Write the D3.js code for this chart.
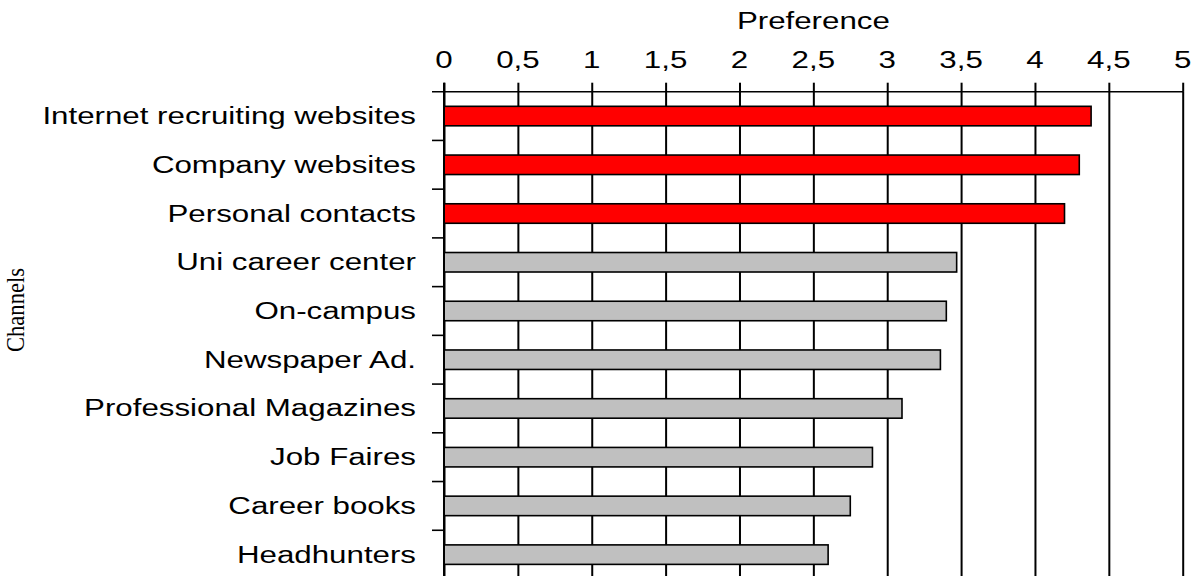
<!DOCTYPE html>
<html>
<head>
<meta charset="utf-8">
<script src="https://cdn.jsdelivr.net/npm/d3@7"></script>
<style>
  html, body { margin: 0; padding: 0; background: #fff; }
  svg { display: block; }
</style>
</head>
<body>
<script>
// ---- data ----
const categories = [
  "Internet recruiting websites",
  "Company websites",
  "Personal contacts",
  "Uni career center",
  "On-campus",
  "Newspaper Ad.",
  "Professional Magazines",
  "Job Faires",
  "Career books",
  "Headhunters"
];
const values = [4.38, 4.30, 4.20, 3.47, 3.40, 3.36, 3.10, 2.90, 2.75, 2.60];
const highlighted = ["Internet recruiting websites", "Company websites", "Personal contacts"];
const tickValues = [0, 0.5, 1, 1.5, 2, 2.5, 3, 3.5, 4, 4.5, 5];
const xTitle = "Preference";
const yTitle = "Channels";

// ---- layout ----
const W = 1191, H = 576;
const plotLeft = 444, plotRight = 1182.7, plotTop = 91.7, plotBottom = 579;
const stretch = 1.36;
const fs = 23;
const font = "'Liberation Sans', Arial, sans-serif";

const svg = d3.select("body").append("svg").attr("width", W).attr("height", H);

const x = d3.scaleLinear().domain([0, 5]).range([plotLeft, plotRight]);
const y = d3.scaleBand().domain(categories).range([plotTop, plotBottom])
  .paddingInner(0.6).paddingOuter(0.3);

const fmt = d => String(d).replace(".", ",");

// gridlines (vertical, full height)
const grid = svg.append("g").attr("transform", `translate(0,${plotTop})`)
  .call(d3.axisTop(x).tickValues(tickValues).tickSize(-(plotBottom - plotTop)).tickFormat(""));
grid.select(".domain").remove();
grid.selectAll(".tick line").attr("stroke", "#000").attr("stroke-width", 2);

// top axis with ticks above
const xa = svg.append("g").attr("transform", `translate(0,${plotTop})`)
  .call(d3.axisTop(x).tickValues(tickValues).tickSize(9).tickSizeOuter(0).tickFormat(""));
xa.select(".domain").remove();
xa.selectAll(".tick line").attr("stroke", "#000").attr("stroke-width", 2);

// top horizontal axis line (extends left like a tick)
svg.append("line")
  .attr("x1", plotLeft - 12).attr("x2", x(5) + 1)
  .attr("y1", plotTop).attr("y2", plotTop)
  .attr("stroke", "#000").attr("stroke-width", 1.6);

// tick labels (stretched)
svg.append("g").selectAll("text").data(tickValues).join("text")
  .attr("transform", d => `translate(${x(d)},68) scale(${stretch},1)`)
  .attr("text-anchor", "middle")
  .attr("font-family", font).attr("font-size", fs).attr("fill", "#000")
  .text(fmt);

// x title
svg.append("text")
  .attr("transform", `translate(${x(2.5)},29) scale(${stretch},1)`)
  .attr("text-anchor", "middle")
  .attr("font-family", font).attr("font-size", fs).attr("fill", "#000")
  .text(xTitle);

// bars
svg.append("g").selectAll("rect").data(categories).join("rect")
  .attr("x", x(0))
  .attr("y", d => y(d))
  .attr("width", (d, i) => x(values[i]) - x(0))
  .attr("height", y.bandwidth())
  .attr("fill", d => highlighted.includes(d) ? "#FF0000" : "#C0C0C0")
  .attr("stroke", "#000").attr("stroke-width", 1.6);

// left axis line and boundary ticks
svg.append("line")
  .attr("x1", plotLeft).attr("x2", plotLeft).attr("y1", plotTop - 9).attr("y2", plotBottom)
  .attr("stroke", "#000").attr("stroke-width", 2);
const step = y.step();
svg.append("g").selectAll("line").data(categories.slice(1)).join("line")
  .attr("x1", plotLeft - 12).attr("x2", plotLeft)
  .attr("y1", d => y(d) - step * 0.3)
  .attr("y2", d => y(d) - step * 0.3)
  .attr("stroke", "#000").attr("stroke-width", 1.6);

// category labels (stretched)
svg.append("g").selectAll("text").data(categories).join("text")
  .attr("transform", d => `translate(416,${y(d) + y.bandwidth() / 2 + 8}) scale(${stretch},1)`)
  .attr("text-anchor", "end")
  .attr("font-family", font).attr("font-size", fs).attr("fill", "#000")
  .text(d => d);

// y title (serif, rotated, condensed along its length)
svg.append("text")
  .attr("transform", `translate(24,310) rotate(-90)`)
  .attr("text-anchor", "middle")
  .attr("font-family", "'Liberation Serif', 'Times New Roman', serif")
  .attr("font-size", 25).attr("fill", "#000")
  .attr("textLength", 84).attr("lengthAdjust", "spacingAndGlyphs")
  .text(yTitle);
</script>
</body>
</html>
